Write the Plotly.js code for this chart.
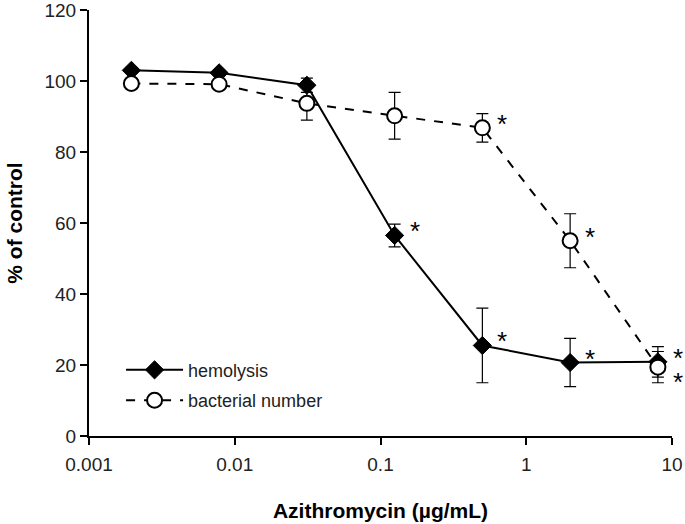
<!DOCTYPE html>
<html>
<head>
<meta charset="utf-8">
<script src="https://cdn.plot.ly/plotly-3.0.1.min.js"></script>
<style>html,body{margin:0;padding:0;background:#fff;}#chart{width:685px;height:524px;}</style>
</head>
<body>
<div id="chart"></div>
<script>
// Azithromycin concentrations (µg/mL), 4-fold dilutions
var concentrations = [0.001953, 0.0078125, 0.03125, 0.125, 0.5, 2, 8];

var hemolysisMean = [103.0, 102.3, 98.8, 56.5, 25.5, 20.7, 20.9];
var hemolysisErr  = [0.8, 0.8, 2.0, 3.2, 10.5, 6.8, 4.3];
var hemolysisSig  = [false, false, false, true, true, true, true];

var bacterialMean = [99.3, 99.1, 93.7, 90.2, 86.8, 55.0, 19.4];
var bacterialErr  = [0.8, 0.8, 4.7, 6.6, 4.0, 7.6, 4.4];
var bacterialSig  = [false, false, false, false, true, true, true];

var seriesNames = ["hemolysis", "bacterial number"];
var xTickVals = [0.001, 0.01, 0.1, 1, 10];
var xTickText = ["0.001", "0.01", "0.1", "1", "10"];
var yTickVals = [0, 20, 40, 60, 80, 100, 120];

var FONT = "Liberation Sans, Arial, sans-serif";

var traces = [
  {
    x: concentrations, y: hemolysisMean, name: seriesNames[0],
    type: "scatter", mode: "lines+markers", legendgroup: "a",
    line: {color: "#000", width: 2},
    marker: {symbol: "diamond", size: 14, color: "#000", line: {color: "#000", width: 1}},
    error_y: {type: "data", array: hemolysisErr, visible: true, color: "#000", thickness: 1.2, width: 6}
  },
  {
    x: concentrations, y: bacterialMean, name: seriesNames[1],
    type: "scatter", mode: "lines+markers", legendgroup: "b",
    line: {color: "#000", width: 2, dash: "dash"},
    marker: {symbol: "circle", size: 15, color: "#fff", line: {color: "#000", width: 2}},
    error_y: {type: "data", array: bacterialErr, visible: true, color: "#000", thickness: 1.2, width: 6}
  }
];

var annotations = [];
function addStars(means, sig, downLast) {
  for (var i = 0; i < means.length; i++) {
    if (!sig[i]) continue;
    var down = downLast && i === means.length - 1;
    annotations.push({
      x: Math.log10(concentrations[i]), y: means[i], xref: "x", yref: "y",
      text: "*", showarrow: false,
      font: {family: FONT, size: 26, color: "#000"},
      xshift: 20, yshift: down ? -15 : 4
    });
  }
}
addStars(hemolysisMean, hemolysisSig, false);
addStars(bacterialMean, bacterialSig, true);

var layout = {
  width: 685, height: 524,
  margin: {l: 89, r: 13, t: 10, b: 88, pad: 0},
  paper_bgcolor: "#fff", plot_bgcolor: "#fff",
  font: {family: FONT, color: "#000", size: 18},
  showlegend: true,
  legend: {
    x: 0.055, y: 0.198, xanchor: "left", yanchor: "top",
    bgcolor: "rgba(0,0,0,0)", font: {family: FONT, size: 18, color: "#222"},
    traceorder: "grouped", tracegroupgap: 4, itemwidth: 57
  },
  xaxis: {
    type: "log", range: [-3, 1],
    tickvals: xTickVals, ticktext: xTickText,
    ticks: "outside", ticklen: 7, tickwidth: 2, tickcolor: "#000",
    showline: true, linecolor: "#000", linewidth: 2,
    showgrid: false, zeroline: false, ticklabelstandoff: 3,
    ticklabeloverflow: "allow",
    tickfont: {family: FONT, size: 19, color: "#222"},
    title: {text: "<b>Azithromycin (µg/mL)</b>", font: {family: FONT, size: 21, color: "#000"}, standoff: 30}
  },
  yaxis: {
    range: [0, 120], tickvals: yTickVals,
    ticks: "outside", ticklen: 7, tickwidth: 2, tickcolor: "#000",
    showline: true, linecolor: "#000", linewidth: 2,
    showgrid: false, zeroline: false, ticklabeloverflow: "allow",
    tickfont: {family: FONT, size: 19, color: "#222"},
    title: {text: "<b>% of control</b>", font: {family: FONT, size: 21, color: "#000"}, standoff: 16}
  },
  annotations: annotations
};

Plotly.newPlot("chart", traces, layout, {displayModeBar: false, staticPlot: true});
</script>
</body>
</html>
